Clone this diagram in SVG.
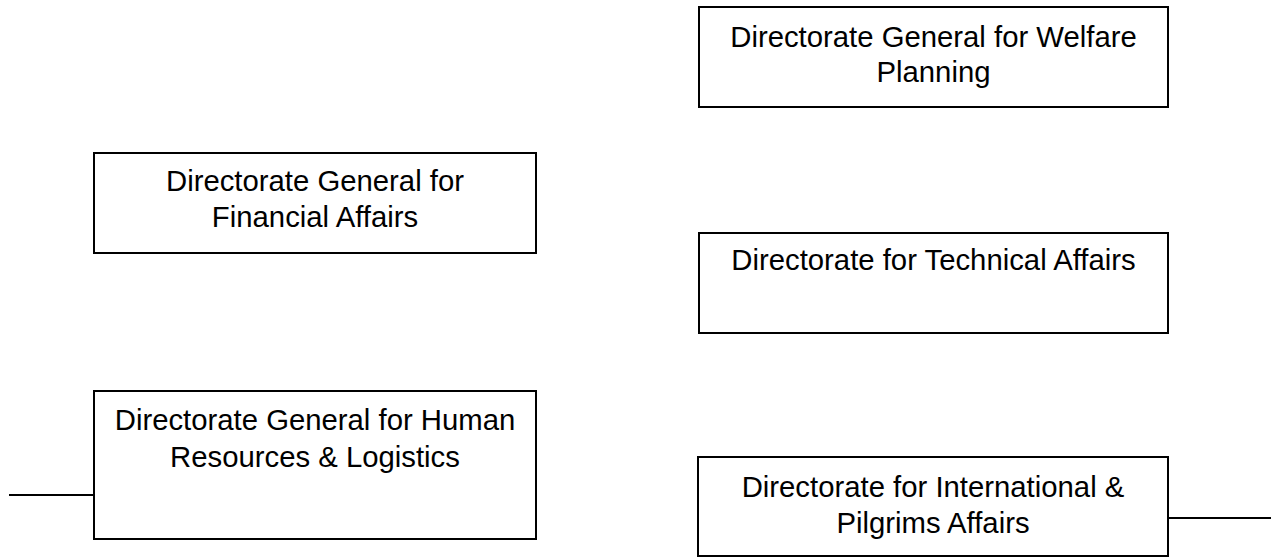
<svg xmlns="http://www.w3.org/2000/svg" width="1273" height="558" viewBox="0 0 1273 558">
  <style>
    .box { fill: #ffffff; stroke: #000000; stroke-width: 2; }
    .label { font-family: "Liberation Sans", Arial, sans-serif; font-size: 29.3px; fill: #000000; text-anchor: middle; }
    .link { stroke: #000000; stroke-width: 2; fill: none; }
  </style>
  <rect width="1273" height="558" fill="#ffffff"/>

  <!-- stubs leading off to the rest of the chart -->
  <g id="connectors">
    <line class="link" x1="9" y1="495" x2="94" y2="495"/>
    <line class="link" x1="1168" y1="518" x2="1271" y2="518"/>
  </g>

  <g id="welfare-planning">
    <rect class="box" x="699" y="7" width="469" height="100"/>
    <text class="label" x="933.5" y="46.5">Directorate General for Welfare</text>
    <text class="label" x="933.5" y="82">Planning</text>
  </g>

  <g id="financial-affairs">
    <rect class="box" x="94" y="153" width="442" height="100"/>
    <text class="label" x="315" y="190.5">Directorate General for</text>
    <text class="label" x="315" y="226.5">Financial Affairs</text>
  </g>

  <g id="technical-affairs">
    <rect class="box" x="699" y="233" width="469" height="100"/>
    <text class="label" x="933.5" y="270">Directorate for Technical Affairs</text>
  </g>

  <g id="human-resources">
    <rect class="box" x="94" y="391" width="442" height="148"/>
    <text class="label" x="315" y="430">Directorate General for Human</text>
    <text class="label" x="315" y="466.5">Resources &amp; Logistics</text>
  </g>

  <g id="international-pilgrims">
    <rect class="box" x="698" y="457" width="470" height="99"/>
    <text class="label" x="933" y="497">Directorate for International &amp;</text>
    <text class="label" x="933" y="533">Pilgrims Affairs</text>
  </g>
</svg>
